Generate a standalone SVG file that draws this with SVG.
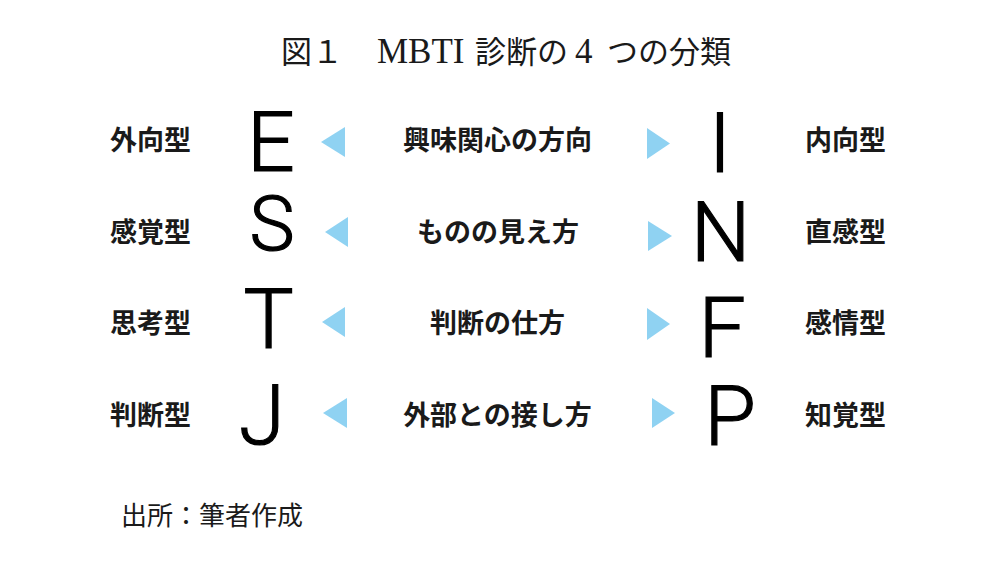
<svg xmlns="http://www.w3.org/2000/svg" width="983" height="563" viewBox="0 0 983 563">
<style>
.title{font-family:"Liberation Serif","Noto Sans CJK JP",serif;font-size:31px;fill:#1a1a1a}
.lat{font-size:35px}
.lab{font-family:"Noto Sans CJK JP",sans-serif;font-size:27px;font-weight:bold;fill:#1a1a1a}
.mid{font-family:"Noto Sans CJK JP",sans-serif;font-size:27px;font-weight:bold;fill:#1a1a1a;text-anchor:middle}
.big{font-family:Roboto,"Liberation Sans",sans-serif;font-size:84px;font-weight:300;fill:#000;stroke:#000;stroke-width:1.2;text-anchor:middle}
.foot{font-family:"Noto Sans CJK JP",sans-serif;font-size:26px;fill:#1a1a1a}
.tri{fill:#8fd2f2}
</style>
<rect width="983" height="563" fill="#fff"/>
<g id="title">
<text class="title" y="63"><tspan x="281">図</tspan><tspan x="312">１</tspan><tspan class="lat" x="377">MBTI</tspan><tspan x="475">診断の</tspan><tspan class="lat" x="575">4</tspan><tspan x="607">つの分類</tspan></text>
</g>
<g id="row1">
<g id="lab-extravert"><text class="lab" x="110" y="150">外向型</text></g>
<g id="letter-E"><text class="big" x="271" y="171">E</text></g>
<g id="mid-1"><text class="mid" x="497.5" y="150">興味関心の方向</text></g>
<g id="letter-I"><text class="big" x="720" y="172">I</text></g>
<g id="lab-introvert"><text class="lab" x="805" y="150">内向型</text></g>
</g>
<g id="row2">
<g id="lab-sensing"><text class="lab" x="110" y="242">感覚型</text></g>
<g id="letter-S"><text class="big" x="272" y="250" style="font-size:76px">S</text></g>
<g id="mid-2"><text class="mid" x="498" y="242">ものの見え方</text></g>
<g id="letter-N"><text class="big" x="720.5" y="261">N</text></g>
<g id="lab-intuition"><text class="lab" x="805" y="242">直感型</text></g>
</g>
<g id="row3">
<g id="lab-thinking"><text class="lab" x="110" y="333">思考型</text></g>
<g id="letter-T"><text class="big" x="268.5" y="348">T</text></g>
<g id="mid-3"><text class="mid" x="497.5" y="333">判断の仕方</text></g>
<g id="letter-F"><text class="big" x="722" y="357">F</text></g>
<g id="lab-feeling"><text class="lab" x="805" y="333">感情型</text></g>
</g>
<g id="row4">
<g id="lab-judging"><text class="lab" x="110" y="425">判断型</text></g>
<g id="letter-J"><text class="big" x="262" y="444">J</text></g>
<g id="mid-4"><text class="mid" x="497.5" y="425">外部との接し方</text></g>
<g id="letter-P"><text class="big" x="730" y="445">P</text></g>
<g id="lab-perceiving"><text class="lab" x="805" y="425">知覚型</text></g>
</g>
<g id="connectors">
<polygon class="tri" points="321,142 345,127 345,157"/>
<polygon class="tri" points="325,232 348,217 348,247"/>
<polygon class="tri" points="322,322 345,307 345,337"/>
<polygon class="tri" points="323,413 347,398 347,428"/>
<polygon class="tri" points="647,128 647,159 670,143.5"/>
<polygon class="tri" points="648,221 648,251 672,236"/>
<polygon class="tri" points="647,308 647,340 670,324"/>
<polygon class="tri" points="652,398 652,428 675,413"/>
</g>
<g id="footer">
<text class="foot" x="121" y="525">出所：筆者作成</text>
</g>
</svg>
